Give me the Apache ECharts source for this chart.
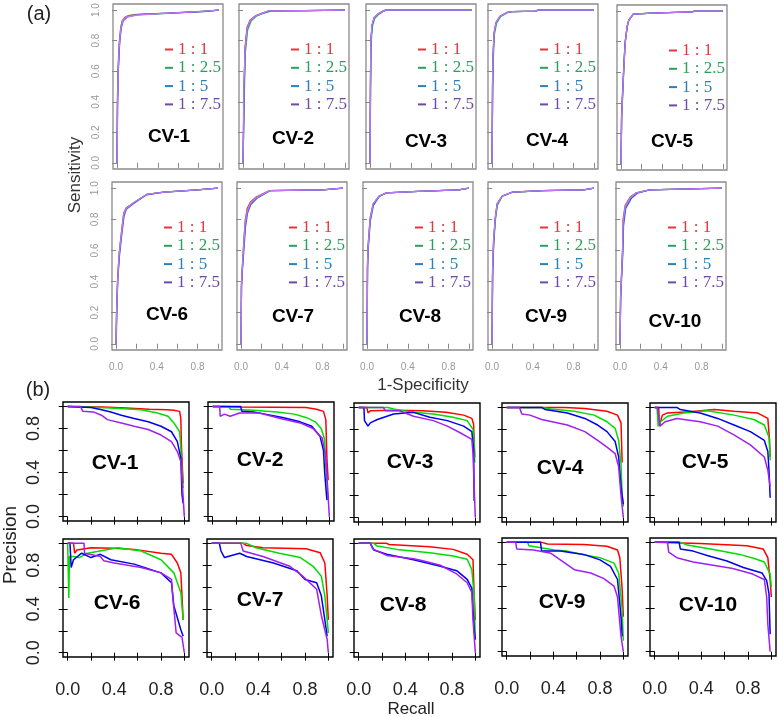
<!DOCTYPE html>
<html>
<head>
<meta charset="utf-8">
<script src="https://cdn.jsdelivr.net/npm/echarts@6/dist/echarts.min.js"></script>
<style>
html,body{margin:0;padding:0;background:#fff;}
#chart{width:778px;height:717px;}
</style>
</head>
<body>
<div id="chart"></div>
<script>
// ---------- categories / labels ----------
const ratios = ['1 : 1', '1 : 2.5', '1 : 5', '1 : 7.5'];
const panels = ['CV-1','CV-2','CV-3','CV-4','CV-5','CV-6','CV-7','CV-8','CV-9','CV-10'];
const tickValues = [0, 0.2, 0.4, 0.6, 0.8, 1];
const labelValues = [0, 0.4, 0.8];

// ---------- ROC curves (1-Specificity, Sensitivity), order: 1:1, 1:2.5, 1:5, 1:7.5 ----------
const roc_cv1 = [
  [[0,0],[0.005,0.45],[0.01,0.62],[0.02,0.78],[0.035,0.88],[0.05,0.93],[0.08,0.955],[0.12,0.965],[0.2,0.972],[0.5,0.98],[0.8,0.99],[1,1]],
  [[0,0],[0.003,0.4],[0.01,0.6],[0.025,0.8],[0.04,0.9],[0.06,0.935],[0.1,0.96],[0.2,0.97],[0.5,0.978],[0.8,0.99],[1,1]],
  [[0,0],[0.005,0.38],[0.012,0.6],[0.025,0.78],[0.04,0.88],[0.06,0.93],[0.1,0.955],[0.2,0.97],[0.5,0.98],[0.85,0.99],[1,1]],
  [[0,0],[0.004,0.36],[0.01,0.58],[0.02,0.75],[0.035,0.87],[0.055,0.93],[0.09,0.955],[0.2,0.968],[0.5,0.98],[0.8,0.99],[1,1]]
];
const roc_cv2 = [
  [[0,0],[0.01,0.5],[0.02,0.76],[0.04,0.89],[0.07,0.935],[0.12,0.962],[0.19,0.98],[0.26,0.995],[0.6,0.997],[1,1]],
  [[0,0],[0.012,0.45],[0.022,0.72],[0.045,0.87],[0.08,0.93],[0.13,0.96],[0.2,0.98],[0.28,0.994],[0.62,0.997],[1,1]],
  [[0,0],[0.01,0.48],[0.02,0.74],[0.04,0.88],[0.07,0.93],[0.12,0.96],[0.19,0.978],[0.26,0.995],[0.6,0.997],[1,1]],
  [[0,0],[0.008,0.5],[0.02,0.75],[0.04,0.88],[0.07,0.932],[0.12,0.96],[0.19,0.98],[0.25,0.995],[0.6,0.997],[1,1]]
];
const roc_cv3 = [
  [[0,0],[0.004,0.5],[0.008,0.8],[0.02,0.9],[0.04,0.95],[0.08,0.975],[0.12,0.99],[0.15,1],[1,1]],
  [[0,0],[0.005,0.48],[0.01,0.78],[0.022,0.89],[0.045,0.945],[0.085,0.972],[0.125,0.99],[0.16,1],[1,1]],
  [[0,0],[0.004,0.52],[0.008,0.8],[0.02,0.9],[0.04,0.95],[0.08,0.975],[0.12,0.99],[0.15,1],[1,1]],
  [[0,0],[0.003,0.5],[0.008,0.79],[0.018,0.9],[0.04,0.95],[0.08,0.976],[0.12,0.99],[0.15,1],[1,1]]
];
const roc_cv4 = [
  [[0,0],[0.005,0.5],[0.01,0.7],[0.02,0.85],[0.04,0.92],[0.08,0.96],[0.15,0.985],[0.2,0.99],[0.43,0.993],[0.45,1],[1,1]],
  [[0,0],[0.006,0.48],[0.012,0.68],[0.022,0.84],[0.045,0.915],[0.085,0.958],[0.15,0.983],[0.2,0.99],[0.43,0.993],[0.45,1],[1,1]],
  [[0,0],[0.005,0.5],[0.01,0.7],[0.02,0.85],[0.04,0.92],[0.08,0.96],[0.15,0.985],[0.2,0.99],[0.43,0.993],[0.45,1],[1,1]],
  [[0,0],[0.004,0.52],[0.01,0.71],[0.02,0.85],[0.04,0.92],[0.08,0.96],[0.15,0.985],[0.2,0.99],[0.43,0.993],[0.45,1],[1,1]]
];
const roc_cv5 = [
  [[0,0],[0.005,0.3],[0.015,0.45],[0.025,0.6],[0.04,0.79],[0.06,0.9],[0.075,0.94],[0.12,0.98],[0.3,0.987],[0.7,0.995],[0.72,1],[1,1]],
  [[0,0],[0.006,0.3],[0.016,0.46],[0.026,0.61],[0.04,0.8],[0.06,0.9],[0.075,0.94],[0.12,0.98],[0.3,0.987],[0.7,0.995],[0.72,1],[1,1]],
  [[0,0],[0.005,0.32],[0.014,0.46],[0.024,0.6],[0.038,0.78],[0.058,0.89],[0.075,0.94],[0.12,0.98],[0.3,0.987],[0.7,0.995],[0.72,1],[1,1]],
  [[0,0],[0.005,0.3],[0.015,0.45],[0.025,0.6],[0.04,0.79],[0.06,0.9],[0.075,0.94],[0.12,0.98],[0.3,0.987],[0.7,0.995],[0.72,1],[1,1]]
];
const roc_cv6 = [
  [[0,0],[0.005,0.2],[0.015,0.42],[0.03,0.58],[0.055,0.73],[0.075,0.84],[0.1,0.875],[0.18,0.91],[0.3,0.96],[0.47,0.975],[0.8,0.99],[1,1]],
  [[0,0],[0.003,0.05],[0.015,0.4],[0.03,0.57],[0.055,0.72],[0.075,0.83],[0.1,0.87],[0.18,0.91],[0.3,0.96],[0.47,0.975],[0.8,0.99],[1,1]],
  [[0,0],[0.005,0.2],[0.016,0.4],[0.032,0.56],[0.057,0.71],[0.078,0.82],[0.1,0.865],[0.18,0.905],[0.3,0.958],[0.47,0.975],[0.8,0.99],[1,1]],
  [[0,0],[0.005,0.2],[0.015,0.4],[0.03,0.57],[0.055,0.72],[0.075,0.83],[0.1,0.87],[0.18,0.91],[0.3,0.96],[0.47,0.975],[0.8,0.99],[1,1]]
];
const roc_cv7 = [
  [[0,0],[0.004,0.38],[0.01,0.47],[0.025,0.64],[0.04,0.79],[0.06,0.87],[0.09,0.91],[0.15,0.945],[0.28,0.985],[0.8,0.99],[1,1]],
  [[0,0],[0.004,0.38],[0.01,0.46],[0.025,0.62],[0.04,0.77],[0.06,0.85],[0.09,0.9],[0.15,0.94],[0.28,0.985],[0.8,0.99],[1,1]],
  [[0,0],[0.004,0.36],[0.011,0.45],[0.027,0.6],[0.043,0.75],[0.063,0.84],[0.095,0.895],[0.16,0.938],[0.29,0.985],[0.8,0.99],[1,1]],
  [[0,0],[0.004,0.38],[0.01,0.46],[0.025,0.62],[0.04,0.77],[0.06,0.85],[0.09,0.9],[0.15,0.94],[0.28,0.985],[0.8,0.99],[1,1]]
];
const roc_cv8 = [
  [[0,0],[0.004,0.5],[0.01,0.63],[0.03,0.81],[0.06,0.9],[0.12,0.95],[0.19,0.97],[0.5,0.98],[0.9,0.99],[1,1]],
  [[0,0],[0.004,0.48],[0.01,0.62],[0.03,0.8],[0.06,0.9],[0.12,0.95],[0.19,0.97],[0.5,0.98],[0.9,0.99],[1,1]],
  [[0,0],[0.005,0.5],[0.011,0.61],[0.032,0.79],[0.062,0.89],[0.12,0.948],[0.19,0.97],[0.5,0.98],[0.9,0.99],[1,1]],
  [[0,0],[0.004,0.5],[0.01,0.62],[0.03,0.8],[0.06,0.9],[0.12,0.95],[0.19,0.97],[0.5,0.98],[0.9,0.99],[1,1]]
];
const roc_cv9 = [
  [[0,0],[0.005,0.45],[0.015,0.65],[0.03,0.8],[0.05,0.9],[0.1,0.95],[0.2,0.975],[0.5,0.985],[0.9,0.99],[1,1]],
  [[0,0],[0.006,0.44],[0.016,0.64],[0.032,0.79],[0.052,0.89],[0.1,0.948],[0.2,0.974],[0.5,0.985],[0.9,0.99],[1,1]],
  [[0,0],[0.005,0.45],[0.015,0.65],[0.03,0.8],[0.05,0.9],[0.1,0.95],[0.2,0.975],[0.5,0.985],[0.9,0.99],[1,1]],
  [[0,0],[0.004,0.46],[0.014,0.66],[0.03,0.8],[0.05,0.9],[0.1,0.95],[0.2,0.975],[0.5,0.985],[0.9,0.99],[1,1]]
];
const roc_cv10 = [
  [[0,0],[0.005,0.3],[0.015,0.45],[0.025,0.62],[0.03,0.8],[0.05,0.89],[0.1,0.945],[0.16,0.97],[0.29,0.99],[0.3,1],[1,1]],
  [[0,0],[0.005,0.3],[0.015,0.45],[0.025,0.6],[0.03,0.78],[0.05,0.88],[0.1,0.94],[0.16,0.97],[0.29,0.99],[0.3,1],[1,1]],
  [[0,0],[0.006,0.3],[0.016,0.44],[0.027,0.58],[0.034,0.76],[0.055,0.87],[0.11,0.935],[0.17,0.968],[0.29,0.99],[0.3,1],[1,1]],
  [[0,0],[0.005,0.3],[0.015,0.45],[0.025,0.6],[0.03,0.78],[0.05,0.88],[0.1,0.94],[0.16,0.97],[0.29,0.99],[0.3,1],[1,1]]
];

// ---------- Precision-Recall curves (Recall, Precision), order: 1:1, 1:2.5, 1:5, 1:7.5 ----------
const pr_cv1 = [
  [[0,1],[0.3,0.995],[0.5,0.985],[0.7,0.975],[0.85,0.97],[0.91,0.965],[0.96,0.955],[0.97,0.89],[0.975,0.65],[0.985,0.41],[0.99,0.3]],
  [[0,1],[0.15,0.995],[0.37,0.985],[0.63,0.97],[0.77,0.94],[0.86,0.91],[0.91,0.85],[0.96,0.77],[0.97,0.62],[0.98,0.41],[0.99,0.26]],
  [[0,1],[0.2,0.99],[0.29,0.97],[0.37,0.95],[0.46,0.92],[0.57,0.89],[0.69,0.86],[0.8,0.82],[0.89,0.77],[0.94,0.68],[0.97,0.53],[0.98,0.2],[0.99,0.12]],
  [[0,1],[0.11,1],[0.13,0.955],[0.22,0.95],[0.29,0.92],[0.34,0.88],[0.46,0.85],[0.57,0.82],[0.69,0.79],[0.8,0.74],[0.89,0.68],[0.94,0.59],[0.97,0.5],[0.985,0.26],[1,0]]
];
const pr_cv2 = [
  [[0,1],[0.25,0.995],[0.8,0.99],[0.89,0.975],[0.95,0.955],[0.97,0.88],[0.98,0.51],[0.99,0.33]],
  [[0,1],[0.14,1],[0.15,0.975],[0.35,0.965],[0.55,0.95],[0.7,0.93],[0.8,0.9],[0.88,0.86],[0.93,0.8],[0.96,0.7],[0.97,0.45],[0.98,0.3],[0.99,0.15]],
  [[0,1],[0.24,1],[0.25,0.955],[0.35,0.95],[0.45,0.93],[0.6,0.9],[0.75,0.86],[0.85,0.82],[0.92,0.73],[0.95,0.6],[0.96,0.4],[0.975,0.2],[0.98,0.15]],
  [[0,1],[0.06,1],[0.065,0.91],[0.1,0.93],[0.15,0.91],[0.23,0.94],[0.4,0.94],[0.58,0.89],[0.75,0.85],[0.86,0.8],[0.94,0.71],[0.97,0.54],[0.98,0.36],[1,0]]
];
const pr_cv3 = [
  [[0,1],[0.07,1],[0.08,0.95],[0.1,0.97],[0.3,0.975],[0.55,0.97],[0.75,0.955],[0.9,0.93],[0.97,0.9],[0.985,0.85],[0.99,0.7],[0.995,0.55]],
  [[0,1],[0.25,1],[0.3,0.985],[0.47,0.955],[0.64,0.94],[0.81,0.91],[0.93,0.88],[0.98,0.8],[0.99,0.69],[0.995,0.5]],
  [[0,1],[0.045,1],[0.05,0.88],[0.08,0.83],[0.1,0.86],[0.16,0.89],[0.3,0.94],[0.47,0.955],[0.61,0.91],[0.76,0.88],[0.9,0.83],[0.97,0.78],[0.985,0.62],[0.99,0.15]],
  [[0,1],[0.21,1],[0.23,0.97],[0.35,0.97],[0.47,0.92],[0.64,0.88],[0.76,0.83],[0.87,0.77],[0.97,0.71],[0.98,0.58],[0.99,0.28],[1,0]]
];
const pr_cv4 = [
  [[0,1],[0.5,1],[0.67,0.99],[0.86,0.965],[0.95,0.93],[0.98,0.86],[0.99,0.5]],
  [[0,1],[0.3,1],[0.38,0.985],[0.58,0.965],[0.75,0.93],[0.86,0.87],[0.93,0.81],[0.96,0.7],[0.98,0.49],[0.99,0.2],[1,0.1]],
  [[0,1],[0.3,1],[0.33,0.98],[0.52,0.95],[0.67,0.9],[0.78,0.84],[0.86,0.78],[0.93,0.69],[0.96,0.55],[0.98,0.28],[1,0.12]],
  [[0,1],[0.11,1],[0.13,0.94],[0.2,0.93],[0.3,0.89],[0.52,0.84],[0.67,0.78],[0.78,0.7],[0.86,0.64],[0.93,0.58],[0.96,0.46],[0.98,0.2],[1,0]]
];
const pr_cv5 = [
  [[0,1],[0.035,1],[0.04,0.83],[0.066,0.93],[0.11,0.95],[0.3,0.96],[0.51,0.98],[0.68,0.965],[0.88,0.95],[0.97,0.9],[0.985,0.7],[0.99,0.55]],
  [[0,1],[0.02,1],[0.03,0.83],[0.05,0.87],[0.11,0.92],[0.25,0.95],[0.45,0.97],[0.68,0.93],[0.85,0.89],[0.94,0.84],[0.98,0.73],[0.99,0.52]],
  [[0,1],[0.19,1],[0.22,0.98],[0.39,0.95],[0.54,0.9],[0.68,0.84],[0.82,0.78],[0.94,0.7],[0.97,0.6],[0.98,0.43],[0.99,0.18]],
  [[0,1],[0.025,1],[0.045,0.83],[0.09,0.87],[0.19,0.9],[0.39,0.87],[0.54,0.83],[0.68,0.75],[0.82,0.66],[0.94,0.55],[0.97,0.43],[0.99,0.28]]
];
const pr_cv6 = [
  [[0,1],[0.05,1],[0.06,0.91],[0.08,0.94],[0.2,0.96],[0.4,0.955],[0.57,0.945],[0.8,0.91],[0.89,0.9],[0.94,0.82],[0.97,0.73],[0.99,0.3]],
  [[0,1],[0.005,1],[0.01,0.5],[0.015,0.88],[0.05,0.88],[0.1,0.87],[0.17,0.91],[0.43,0.96],[0.63,0.93],[0.8,0.85],[0.91,0.73],[0.97,0.55],[0.99,0.3]],
  [[0,1],[0.02,1],[0.03,0.78],[0.05,0.85],[0.12,0.91],[0.2,0.87],[0.28,0.9],[0.37,0.85],[0.57,0.81],[0.8,0.73],[0.89,0.64],[0.91,0.43],[0.97,0.21],[0.99,0.15]],
  [[0,1],[0.14,1],[0.145,0.91],[0.28,0.88],[0.31,0.84],[0.4,0.82],[0.63,0.78],[0.8,0.73],[0.89,0.67],[0.9,0.52],[0.93,0.18],[0.98,0.14],[1,0]]
];
const pr_cv7 = [
  [[0,1],[0.27,1],[0.3,0.98],[0.44,0.96],[0.81,0.95],[0.93,0.915],[0.97,0.82],[0.99,0.52],[1,0.3]],
  [[0,1],[0.3,1],[0.38,0.96],[0.58,0.91],[0.76,0.87],[0.87,0.79],[0.94,0.7],[0.97,0.52],[0.99,0.3],[1,0.18]],
  [[0,1],[0.066,1],[0.08,0.93],[0.11,0.87],[0.24,0.91],[0.3,0.88],[0.53,0.82],[0.73,0.75],[0.8,0.67],[0.9,0.64],[0.94,0.52],[0.97,0.3],[0.99,0.15]],
  [[0,1],[0.25,1],[0.27,0.93],[0.44,0.88],[0.67,0.79],[0.78,0.7],[0.9,0.58],[0.94,0.34],[0.99,0.12],[1,0]]
];
const pr_cv8 = [
  [[0,1],[0.24,1],[0.26,0.99],[0.61,0.97],[0.81,0.945],[0.93,0.9],[0.98,0.85],[0.99,0.52],[1,0.3]],
  [[0,1],[0.13,1],[0.16,0.975],[0.33,0.945],[0.61,0.915],[0.81,0.885],[0.93,0.855],[0.97,0.76],[0.99,0.52],[1,0.12]],
  [[0,1],[0.1,1],[0.13,0.94],[0.24,0.9],[0.47,0.85],[0.7,0.79],[0.84,0.75],[0.93,0.67],[0.97,0.59],[0.99,0.21],[1,0.12]],
  [[0,1],[0.1,1],[0.12,0.95],[0.24,0.89],[0.47,0.86],[0.55,0.84],[0.7,0.8],[0.84,0.72],[0.93,0.64],[0.97,0.55],[0.98,0.3],[1,0]]
];
const pr_cv9 = [
  [[0,1],[0.3,1],[0.35,0.985],[0.66,0.98],[0.86,0.965],[0.95,0.93],[0.97,0.86],[0.99,0.57],[1,0.32]],
  [[0,1],[0.18,1],[0.19,0.97],[0.41,0.93],[0.52,0.92],[0.65,0.89],[0.8,0.86],[0.92,0.81],[0.96,0.72],[0.99,0.38],[1,0.1]],
  [[0,1],[0.29,1],[0.3,0.92],[0.46,0.92],[0.66,0.89],[0.8,0.84],[0.89,0.78],[0.95,0.66],[0.98,0.32],[0.99,0.14]],
  [[0,1],[0.077,1],[0.086,0.94],[0.23,0.93],[0.38,0.9],[0.46,0.84],[0.58,0.75],[0.72,0.72],[0.83,0.67],[0.92,0.6],[0.95,0.5],[0.98,0.14],[1,0]]
];
const pr_cv10 = [
  [[0,1],[0.39,0.99],[0.79,0.97],[0.93,0.94],[0.97,0.86],[0.99,0.65],[1,0.5]],
  [[0,1],[0.22,1],[0.28,0.975],[0.48,0.94],[0.73,0.89],[0.86,0.85],[0.94,0.82],[0.99,0.71],[1,0.59]],
  [[0,1],[0.21,1],[0.22,0.94],[0.33,0.92],[0.45,0.88],[0.62,0.83],[0.76,0.77],[0.92,0.72],[0.96,0.65],[0.98,0.53],[0.99,0.16]],
  [[0,1],[0.11,1],[0.12,0.91],[0.19,0.86],[0.33,0.82],[0.45,0.8],[0.67,0.76],[0.84,0.71],[0.94,0.66],[0.96,0.5],[0.97,0.25],[0.99,0]]
];

const rocData = [roc_cv1, roc_cv2, roc_cv3, roc_cv4, roc_cv5, roc_cv6, roc_cv7, roc_cv8, roc_cv9, roc_cv10];
const prData = [pr_cv1, pr_cv2, pr_cv3, pr_cv4, pr_cv5, pr_cv6, pr_cv7, pr_cv8, pr_cv9, pr_cv10];

// ---------- layout & style (not data) ----------
const rocBoxes = [[113,4,165],[239,4,165],[366,4,165],[488,4,165],[617,5,165],
                  [112,182,168],[237,182,168],[363,182,168],[488,182,168],[616,182,168]];
const rocW = 110;
const prBoxes = [[63,402,119],[208,402,119],[354,403,119],[502,403,119],[650,403,119],
                 [63,539,118],[207,539,118],[354,539,118],[502,538,118],[650,538,118]];
const prW = 126;
const rocLabelOff = [[56,133],[54,135],[60,138],[59,137],[55,137],[55,133],[56,135],[57,135],[58,135],[59,140]];
const prLabelOff = [[52,61],[52,58],[56,59],[58,65],[55,59],[54,64],[53,61],[49,66],[60,64],[58,67]];
const rocLineColors = ['#ff2a2a', '#22c24a', '#2a50e0', '#c078f5'];
const legendColors = ['#e8343c', '#2ca05a', '#2e7fb8', '#6e4aa8'];
const prLineColors = ['#ff0000', '#00dd00', '#0000ee', '#a020f0'];
const sans = 'Liberation Sans, Arial, sans-serif';
const serif = 'Liberation Serif, Times New Roman, serif';

const grid = [], xAxis = [], yAxis = [], series = [], legend = [], graphic = [];
const fmt = v => v.toFixed(1);

function addPanel(k, box, w, kind, row, col, data) {
  const [left, top, h] = box;
  const isRoc = kind === 'roc';
  grid.push({ left: left, top: top, width: w, height: h, show: true,
    borderColor: isRoc ? '#8a8a8a' : '#000', borderWidth: isRoc ? 1.3 : 1.4,
    backgroundColor: 'transparent', containLabel: false });
  const tickColor = isRoc ? '#888' : '#000';
  xAxis.push({ gridIndex: k, type: 'value', min: -0.04, max: 1.04,
    axisLine: { show: false }, splitLine: { show: false },
    axisTick: { show: true, length: isRoc ? 5 : 8, customValues: tickValues, lineStyle: { color: tickColor, width: 1 } },
    axisLabel: { show: row === 1, customValues: labelValues, formatter: fmt,
      color: isRoc ? '#999' : '#222', fontFamily: sans, fontSize: isRoc ? 10 : 18, margin: isRoc ? 12 : 24 } });
  yAxis.push({ gridIndex: k, type: 'value', min: -0.04, max: 1.04,
    axisLine: { show: false }, splitLine: { show: false },
    axisTick: { show: true, length: isRoc ? 5 : 9, customValues: tickValues, lineStyle: { color: tickColor, width: 1 } },
    axisLabel: { show: col === 0, customValues: isRoc ? tickValues : labelValues, formatter: fmt, rotate: 90,
      color: isRoc ? '#999' : '#222', fontFamily: sans, fontSize: isRoc ? 10 : 18, margin: isRoc ? 12 : 20 } });
  data.forEach((arr, i) => {
    series.push({ name: ratios[i], type: 'line', xAxisIndex: k, yAxisIndex: k, data: arr,
      symbol: 'none', showSymbol: false, silent: true, animation: false,
      color: isRoc ? rocLineColors[i] : prLineColors[i],
      lineStyle: { color: isRoc ? rocLineColors[i] : prLineColors[i], width: isRoc ? 1.3 : 1.5 } });
  });
}

for (let p = 0; p < 10; p++) {
  const row = Math.floor(p / 5), col = p % 5;
  // ROC panel
  addPanel(p, rocBoxes[p], rocW, 'roc', row, col, rocData[p]);
  const [rl, rt] = rocBoxes[p];
  legend.push({ left: rl + 47, top: rt + 32, orient: 'vertical', selectedMode: false,
    itemWidth: 8, itemHeight: 2, itemGap: 1.3, icon: 'rect',
    textStyle: { fontFamily: serif, fontSize: 17, lineHeight: 17 },
    data: ratios.map((n, i) => ({ name: n, icon: 'rect', itemStyle: { color: legendColors[i] },
      textStyle: { color: legendColors[i], fontFamily: serif, fontSize: 17 } })) });
  graphic.push({ type: 'text', x: rl + rocLabelOff[p][0], y: rt + rocLabelOff[p][1], silent: true,
    style: { text: panels[p], fontFamily: sans, fontWeight: 'bold', fontSize: 19, fill: '#000', align: 'center', verticalAlign: 'middle' } });
}
for (let p = 0; p < 10; p++) {
  const row = Math.floor(p / 5), col = p % 5;
  addPanel(10 + p, prBoxes[p], prW, 'pr', row, col, prData[p]);
  const [pl, pt] = prBoxes[p];
  graphic.push({ type: 'text', x: pl + prLabelOff[p][0], y: pt + prLabelOff[p][1], silent: true,
    style: { text: panels[p], fontFamily: sans, fontWeight: 'bold', fontSize: 21, fill: '#000', align: 'center', verticalAlign: 'middle' } });
}

// titles
graphic.push(
  { type: 'text', x: 39, y: 14, style: { text: '(a)', fontFamily: sans, fontSize: 20, fill: '#222', align: 'center', verticalAlign: 'middle' } },
  { type: 'text', x: 38, y: 390, style: { text: '(b)', fontFamily: sans, fontSize: 20, fill: '#222', align: 'center', verticalAlign: 'middle' } },
  { type: 'text', x: 75, y: 175, rotation: Math.PI / 2, style: { text: 'Sensitivity', fontFamily: sans, fontSize: 17, fill: '#333', align: 'center', verticalAlign: 'middle' } },
  { type: 'text', x: 423, y: 385, style: { text: '1-Specificity', fontFamily: sans, fontSize: 17, fill: '#333', align: 'center', verticalAlign: 'middle' } },
  { type: 'text', x: 11, y: 545, rotation: Math.PI / 2, style: { text: 'Precision', fontFamily: sans, fontSize: 19, fill: '#222', align: 'center', verticalAlign: 'middle' } },
  { type: 'text', x: 411, y: 709, style: { text: 'Recall', fontFamily: sans, fontSize: 17, fill: '#222', align: 'center', verticalAlign: 'middle' } }
);

const chart = echarts.init(document.getElementById('chart'), null, { renderer: 'canvas' });
chart.setOption({ animation: false, backgroundColor: '#fff', grid, xAxis, yAxis, series, legend, graphic });
</script>
</body>
</html>
